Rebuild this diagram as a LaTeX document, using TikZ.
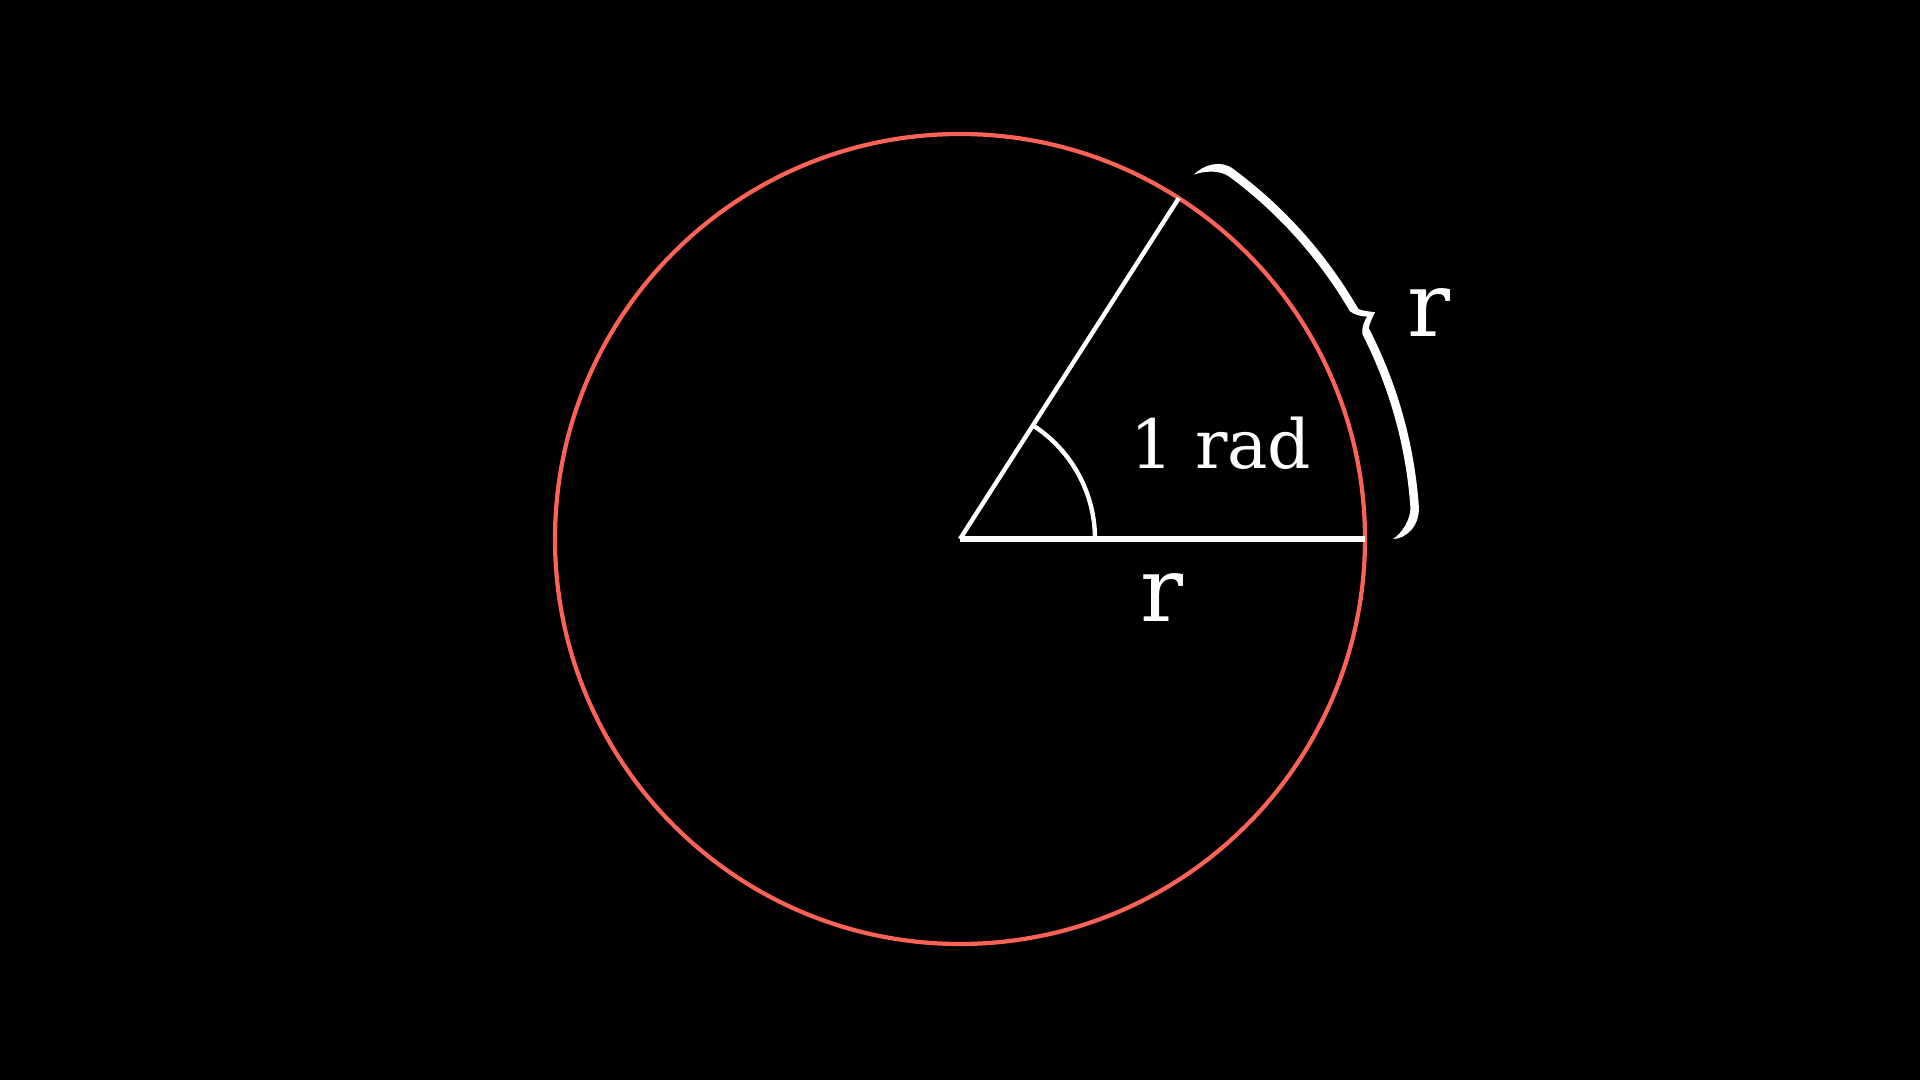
\documentclass[tikz,border=0pt]{standalone}
\usepackage{fontspec}
\setmainfont{DejaVu Serif}
\usetikzlibrary{positioning}
\definecolor{manimred}{HTML}{FC6255}

\begin{document}
\begin{tikzpicture}

\tikzset{ring/.style = {draw=manimred, line width=1.2pt}}
\tikzset{radius line/.style = {draw=white, line width=1.25pt}}
\tikzset{label/.style = {text=white, inner sep=0pt, anchor=base}}
%background
\useasboundingbox (-9.6,-5.41) rectangle (9.6,5.39);
\fill[black] (-9.6,-5.41) rectangle (9.6,5.39);
%points
\coordinate (O) at (0,0);
\coordinate (A) at (0:4.05);
\coordinate (B) at (57.3:4.05);
\draw[ring] (O) circle [radius=4.05];
\draw[radius line] (O) -- (B);
\draw[radius line, line width=1.45pt] (O) -- (A);
\draw[radius line] (1.35,0) arc [start angle=0, end angle=57.3, radius=1.35];
%brace
\fill[white] (0:4.33) .. controls (0:4.45) and (1.5:4.6) .. (4:4.6)
  arc [start angle=4, end angle=27.3, radius=4.6]
  .. controls (27.8:4.63) and (28.3:4.69) .. (28.65:4.73)
  .. controls (29:4.69) and (29.5:4.63) .. (30:4.6)
  arc [start angle=30, end angle=53.5, radius=4.6]
  .. controls (55.5:4.61) and (57:4.46) .. (57.3:4.33)
  .. controls (56.5:4.41) and (55:4.515) .. (53.3:4.515)
  arc [start angle=53.3, end angle=30.3, radius=4.515]
  .. controls (29.5:4.54) and (28.9:4.6) .. (28.65:4.64)
  .. controls (28.4:4.6) and (27.8:4.54) .. (27:4.515)
  arc [start angle=27, end angle=4, radius=4.515]
  .. controls (2.5:4.515) and (0.6:4.41) .. (0:4.33) -- cycle;
%labels
\node[label, font=\fontsize{19.3}{23}\selectfont] (angle) at (2.61,0.70) {1 rad};
\node[label, font=\fontsize{25.6}{30}\selectfont] (r1) at (2.02,-0.83) {r};
\node[label, font=\fontsize{25.6}{30}\selectfont] (r2) at (4.69,2.02) {r};

\end{tikzpicture}
\end{document}
